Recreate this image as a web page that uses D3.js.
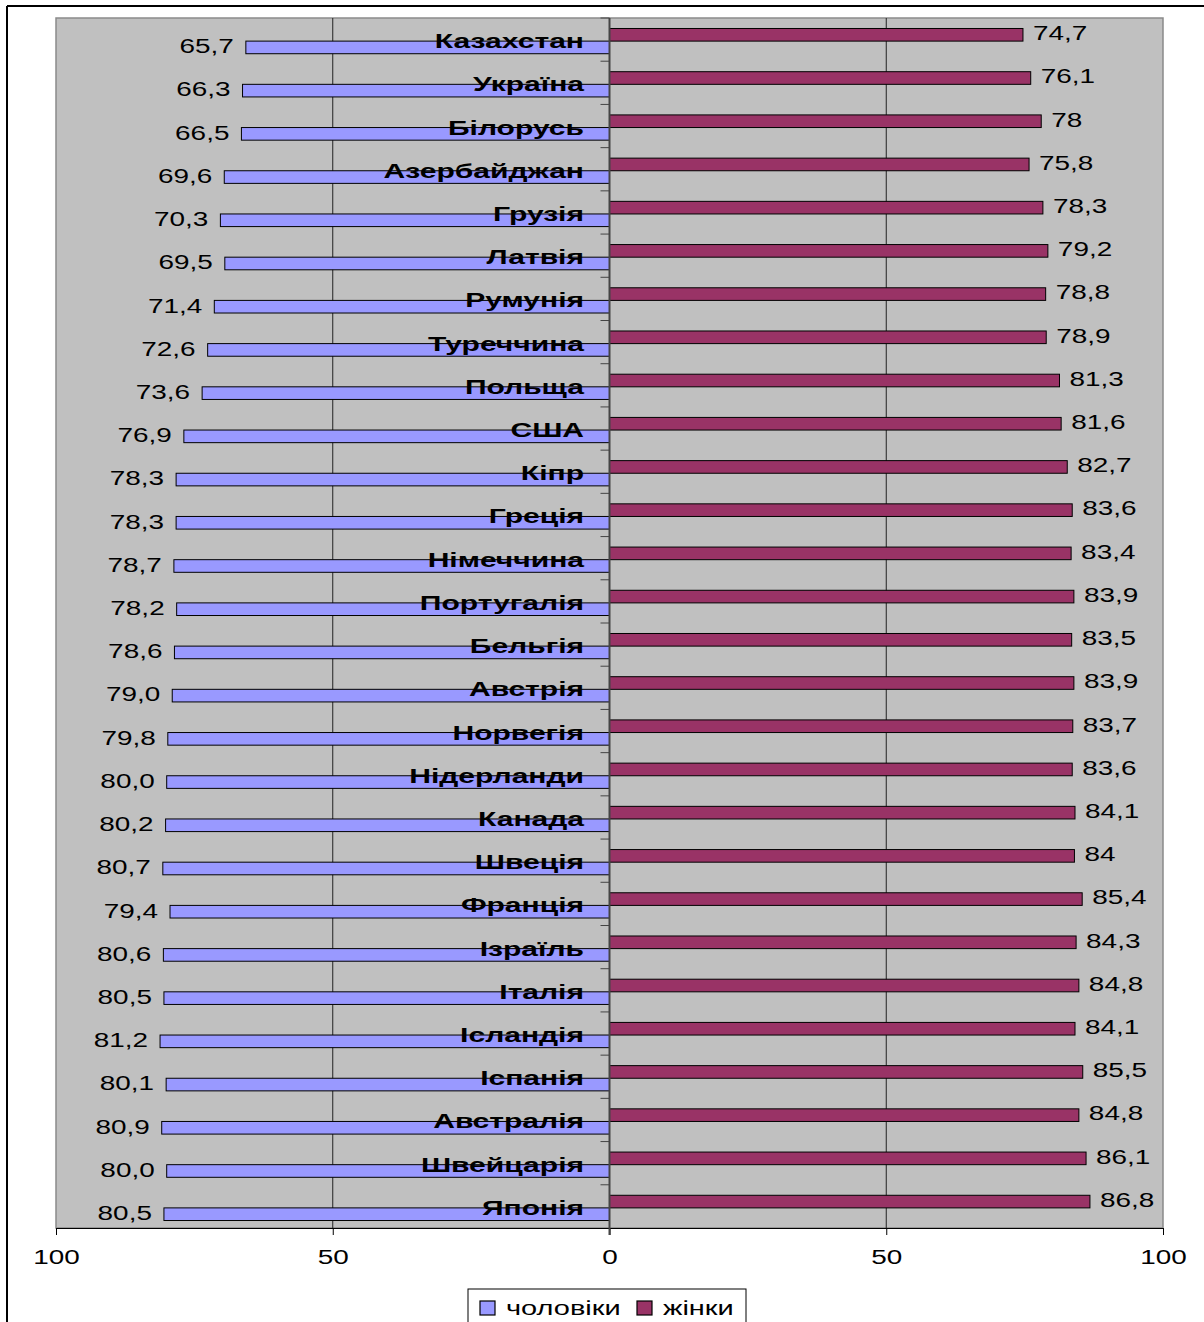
<!DOCTYPE html>
<html>
<head>
<meta charset="utf-8">
<script src="https://cdn.jsdelivr.net/npm/d3@7"></script>
<style>
  html, body { margin: 0; padding: 0; background: #fff; }
  svg { display: block; font-family: "Liberation Sans", Arial, sans-serif; }
</style>
</head>
<body>
<svg id="chart" width="1204" height="1322"></svg>
<script>
const categories = ["Казахстан","Україна","Білорусь","Азербайджан","Грузія","Латвія","Румунія","Туреччина","Польща","США","Кіпр","Греція","Німеччина","Португалія","Бельгія","Австрія","Норвегія","Нідерланди","Канада","Швеція","Франція","Ізраїль","Італія","Ісландія","Іспанія","Австралія","Швейцарія","Японія"];
const male   = [65.7,66.3,66.5,69.6,70.3,69.5,71.4,72.6,73.6,76.9,78.3,78.3,78.7,78.2,78.6,79.0,79.8,80.0,80.2,80.7,79.4,80.6,80.5,81.2,80.1,80.9,80.0,80.5];
const female = [74.7,76.1,78,75.8,78.3,79.2,78.8,78.9,81.3,81.6,82.7,83.6,83.4,83.9,83.5,83.9,83.7,83.6,84.1,84,85.4,84.3,84.8,84.1,85.5,84.8,86.1,86.8];
const xTickValues = [-100,-50,0,50,100];
const xTickLabels = ["100","50","0","50","100"];
const seriesNames = ["чоловіки","жінки"];
const seriesColors = ["#9999ff","#993366"];

const svg = d3.select("#chart");
const SX = 1.33;  // horizontal text stretch (regular)
const SXB = 1.43; // horizontal text stretch (bold country labels)
const SXL = 1.38; // legend
const L = 56, R = 1163, T = 18, B = 1228;

const x = d3.scaleLinear().domain([-100,100]).range([L,R]);
const y = d3.scaleBand().domain(categories).range([T,B]).paddingInner(0).paddingOuter(0);
const bh = y.bandwidth()*0.292;

// outer frame (top and left only visible)
svg.append("line").attr("x1",7).attr("x2",1204).attr("y1",6).attr("y2",6).attr("stroke","#000").attr("stroke-width",2);
svg.append("line").attr("x1",7).attr("x2",7).attr("y1",6).attr("y2",1322).attr("stroke","#000").attr("stroke-width",2);

// plot area
svg.append("rect").attr("x",L).attr("y",T).attr("width",R-L).attr("height",B-T)
  .attr("fill","#c0c0c0").attr("stroke","#8a8a8a").attr("stroke-width",1.5);

// gridlines
[-50,50].forEach(v=>{
  svg.append("line").attr("x1",x(v)).attr("x2",x(v)).attr("y1",T).attr("y2",B)
    .attr("stroke","#222").attr("stroke-width",1);
});

// bottom axis
const xAxis = d3.axisBottom(x).tickValues(xTickValues).tickSize(7).tickPadding(14)
  .tickFormat((d,i)=>xTickLabels[i]);
const gx = svg.append("g").attr("transform",`translate(0,${B})`).call(xAxis);
gx.select(".domain").attr("stroke","#000");
gx.selectAll(".tick line").attr("stroke","#000");
gx.selectAll(".tick text").attr("font-size",21).attr("fill","#000")
  .attr("font-family","Liberation Sans, Arial, sans-serif")
  .attr("transform",`scale(${SX},1)`);

const fmtM = v => d3.format(".1f")(v).replace(".",",");
const fmtF = v => String(v).replace(".",",");

const rows = svg.append("g").selectAll("g.row").data(categories).join("g").attr("class","row");

// female bars
rows.append("rect")
  .attr("x",x(0))
  .attr("y",(d)=>y(d)+y.bandwidth()/2+1.5-bh)
  .attr("width",(d,i)=>x(female[i])-x(0))
  .attr("height",bh)
  .attr("fill",seriesColors[1]).attr("stroke","#000").attr("stroke-width",1);

// male bars
rows.append("rect")
  .attr("x",(d,i)=>x(-male[i]))
  .attr("y",(d)=>y(d)+y.bandwidth()/2+1.5)
  .attr("width",(d,i)=>x(0)-x(-male[i]))
  .attr("height",bh)
  .attr("fill",seriesColors[0]).attr("stroke","#000").attr("stroke-width",1);

// zero axis
svg.append("line").attr("x1",x(0)).attr("x2",x(0)).attr("y1",T).attr("y2",B+7)
  .attr("stroke","#444").attr("stroke-width",2);
// category ticks
svg.append("g").selectAll("line").data(categories).join("line")
  .attr("x1",x(0)-9).attr("x2",x(0)).attr("y1",d=>y(d)).attr("y2",d=>y(d))
  .attr("stroke","#444").attr("stroke-width",1);

// male value labels
rows.append("g")
  .attr("transform",(d,i)=>`translate(${x(-male[i])-12},${y(d)+y.bandwidth()/2+1.5+bh-0.5}) scale(${SX},1)`)
  .append("text").attr("text-anchor","end").attr("font-size",21).attr("fill","#000")
  .text((d,i)=>fmtM(male[i]));

// female value labels
rows.append("g")
  .attr("transform",(d,i)=>`translate(${x(female[i])+10},${y(d)+y.bandwidth()/2+1.5-1}) scale(${SX},1)`)
  .append("text").attr("text-anchor","start").attr("font-size",21).attr("fill","#000")
  .text((d,i)=>fmtF(female[i]));

// country labels
rows.append("g")
  .attr("transform",(d)=>`translate(584,${y(d)+y.bandwidth()/2+8.5}) scale(${SXB},1)`)
  .append("text").attr("text-anchor","end").attr("font-size",21).attr("font-weight","bold").attr("fill","#000")
  .text(d=>d);

// legend
const lg = svg.append("g");
lg.append("rect").attr("x",468).attr("y",1289).attr("width",278).attr("height",40)
  .attr("fill","#fff").attr("stroke","#000").attr("stroke-width",1);
const legendX = [480, 637];
seriesNames.forEach((n,i)=>{
  lg.append("rect").attr("x",legendX[i]).attr("y",1301).attr("width",15).attr("height",14)
    .attr("fill",seriesColors[i]).attr("stroke","#000").attr("stroke-width",1.2);
  lg.append("g").attr("transform",`translate(${legendX[i]+26},1315) scale(${SXL},1)`)
    .append("text").attr("font-size",21).attr("fill","#000").text(n);
});
</script>
</body>
</html>
